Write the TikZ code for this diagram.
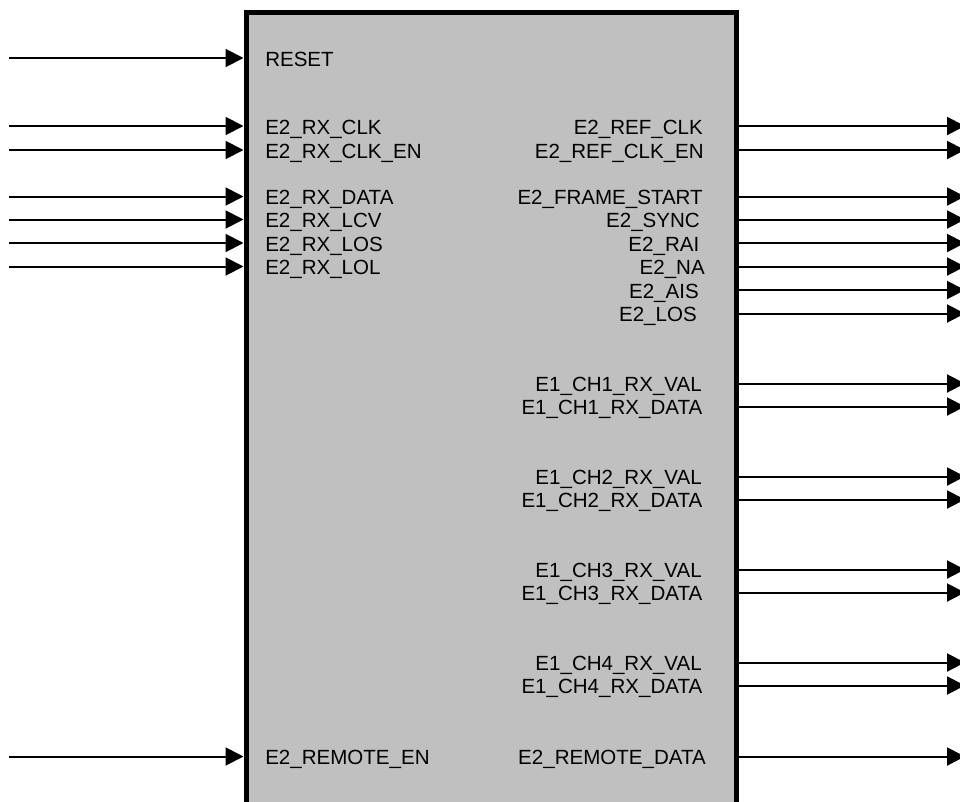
\documentclass[tikz,border=0pt]{standalone}
\usepackage{fontspec}
\setmainfont{Liberation Sans}
\usetikzlibrary{arrows.meta}
\definecolor{boxgray}{RGB}{192,192,192}
\tikzset{
  pin/.style={line width=1.5pt,-{Triangle[length=13.5pt,width=13.5pt]}},
  sig/.style={inner sep=0pt,font=\fontsize{15.4}{18}\selectfont},
  blockbox/.style={draw,line width=4pt,fill=boxgray,inner sep=0pt,
    minimum width=367.7pt,minimum height=615pt,anchor=north west},
}

\begin{document}
\begin{tikzpicture}[x=0.75pt,y=-0.75pt]
\useasboundingbox (0,0) rectangle (960,801);
% block
\node[blockbox] (blk) at (243.5,10) {};
% inputs
\foreach \y/\t [count=\i] in {58/RESET,126/E2\_RX\_CLK,150/E2\_RX\_CLK\_EN,
    196.5/E2\_RX\_DATA,219.5/E2\_RX\_LCV,243/E2\_RX\_LOS,266.5/E2\_RX\_LOL,
    756.5/E2\_REMOTE\_EN} {
  \coordinate (in\i) at (9,\y);
  \node[sig,anchor=base west] (inl\i) at (265,\y+8) {\t};
  \draw[pin] (in\i) -- (blk.west |- in\i);
}
% outputs
\foreach \y/\xe/\t [count=\i] in {126/703/E2\_REF\_CLK,150/704/E2\_REF\_CLK\_EN,
    196.5/703/E2\_FRAME\_START,219.5/700/E2\_SYNC,243/699.5/E2\_RAI,
    266.5/705/E2\_NA,290/699/E2\_AIS,313.5/697/E2\_LOS,
    383.5/702/E1\_CH1\_RX\_VAL,406.5/702.5/E1\_CH1\_RX\_DATA,
    476.5/702/E1\_CH2\_RX\_VAL,499.5/702.5/E1\_CH2\_RX\_DATA,
    569.5/702/E1\_CH3\_RX\_VAL,592.5/702.5/E1\_CH3\_RX\_DATA,
    662.5/702/E1\_CH4\_RX\_VAL,685.5/702.5/E1\_CH4\_RX\_DATA,
    756.5/706/E2\_REMOTE\_DATA} {
  \coordinate (out\i) at (965,\y);
  \node[sig,anchor=base east] (outl\i) at (\xe,\y+8) {\t};
  \draw[pin] (blk.east |- out\i) -- (out\i);
}
\end{tikzpicture}
\end{document}
